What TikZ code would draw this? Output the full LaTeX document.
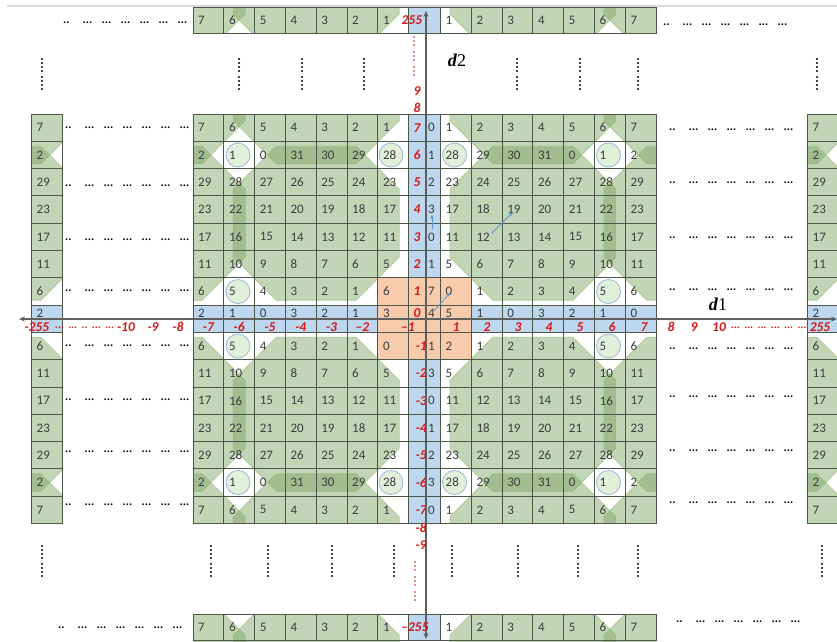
\documentclass[tikz,border=0pt]{standalone}
\usepackage{fontspec}
\setmainfont{Carlito}
\newfontfamily\dfont{Liberation Serif}
\usetikzlibrary{arrows.meta}
\definecolor{octgreen}{RGB}{124,164,97}
\definecolor{octline}{RGB}{140,190,110}
\definecolor{bluecell}{RGB}{189,215,238}
\definecolor{orangecell}{RGB}{248,203,173}
\definecolor{gridc}{RGB}{78,86,74}
\definecolor{numc}{RGB}{60,60,60}
\definecolor{redl}{RGB}{214,24,24}
\definecolor{circf}{RGB}{226,239,218}
\definecolor{circd}{RGB}{150,185,215}
\definecolor{arrowblue}{RGB}{91,155,213}
\definecolor{axisc}{RGB}{95,95,95}
\newcommand{\oct}[2]{\filldraw[octf] ({#1-83},{#2-34}) -- ({#1-40},{#2-77}) -- ({#1+40},{#2-77}) -- ({#1+83},{#2-34}) -- ({#1+83},{#2+34}) -- ({#1+40},{#2+77}) -- ({#1-40},{#2+77}) -- ({#1-83},{#2+34}) -- cycle;}
\newcommand{\octs}[2]{\foreach \ox in {#1}{\foreach \oy in {#2}{\oct{\ox}{\oy}}}}
\newcommand{\dotline}{..\hspace{13pt}...\hspace{9.4pt}...\hspace{9.4pt}...\hspace{9.4pt}...\hspace{9.4pt}...\hspace{9.4pt}...}
\newcommand{\vdotsat}[2]{\foreach \dd in {0,4,8,12,18,22,26,30}{\fill[black] (#1,{#2+\dd}) circle (1.1);}}
\tikzset{
 octf/.style={fill=octgreen, fill opacity=0.45, draw=octline, draw opacity=0.7, line width=0.6pt},
 num/.style={anchor=west, inner sep=0pt, text=numc, font=\fontsize{13}{13}\selectfont},
 rlab/.style={inner sep=0pt, text=redl, font=\fontsize{13.5}{13.5}\selectfont\bfseries\itshape},
 gridline/.style={draw=gridc, line width=0.9pt},
 circ/.style={circle, fill=circf, draw=circd, line width=0.8pt, minimum size=24pt, inner sep=0pt},
 hdot/.style={anchor=west, inner sep=0pt, text=black, font=\fontsize{12}{12}\selectfont\bfseries},
 rdots/.style={anchor=west, inner sep=0pt, text=redl, font=\fontsize{11}{11}\selectfont\bfseries\itshape},
 axisline/.style={draw=axisc, line width=1.2pt, {Stealth[length=6pt,width=5pt]}-{Stealth[length=6pt,width=5pt]}},
 barrow/.style={draw=arrowblue, line width=0.8pt, -{Stealth[length=4pt,width=3.5pt]}},
 dlab/.style={inner sep=0pt, font=\dfont\fontsize{18}{18}\selectfont},
}
\begin{document}
\begin{tikzpicture}[x=1pt,y=-1pt]
\useasboundingbox (0,0) rectangle (837,641);
\fill[white] (0,0) rectangle (837,641);
\draw[gray!30, line width=2pt] (7,5.5) -- (837,5.5);

% ---- green octagon overlays ----
\begin{scope}\clip (193,114) rectangle (408.6,305.1); \octs{162.2,316.2}{86.75,223.25}\end{scope}
\begin{scope}\clip (440.5,114) rectangle (656.1,305.1); \octs{532.9,686.9}{86.75,223.25}\end{scope}
\begin{scope}\clip (193,332.4) rectangle (408.6,523.5); \octs{162.2,316.2}{414.25,550.75}\end{scope}
\begin{scope}\clip (440.5,332.4) rectangle (656.1,523.5); \octs{532.9,686.9}{414.25,550.75}\end{scope}
\begin{scope}\clip (193,7.3) rectangle (656.1,33.6);
 \begin{scope}[shift={(0,-106.7)}]\octs{162.2,316.2}{86.75,223.25}\octs{532.9,686.9}{86.75,223.25}\end{scope}
\end{scope}
\begin{scope}\clip (193,614.3) rectangle (656.1,641);
 \begin{scope}[shift={(0,118.4)}]\octs{162.2,316.2}{414.25,550.75}\octs{532.9,686.9}{414.25,550.75}\end{scope}
\end{scope}
\begin{scope}\clip (31.8,114) rectangle (62.6,523.5);
 \begin{scope}[shift={(-161.2,0)}]\octs{162.2,316.2}{86.75,223.25,414.25,550.75}\end{scope}
\end{scope}
\begin{scope}\clip (807.8,114) rectangle (838.6,523.5);
 \begin{scope}[shift={(614.8,0)}]\octs{162.2,316.2}{86.75,223.25,414.25,550.75}\end{scope}
\end{scope}

% ---- blue and orange cells ----
\fill[bluecell] (408.6,114) rectangle (440.5,277.8);
\fill[bluecell] (408.6,359.7) rectangle (440.5,523.5);
\fill[bluecell] (193,305.1) rectangle (377.8,332.4);
\fill[bluecell] (471.3,305.1) rectangle (656.1,332.4);
\fill[orangecell] (377.8,277.8) rectangle (471.3,359.7);
\fill[bluecell] (408.6,7.3) rectangle (440.5,33.6);
\fill[bluecell] (408.6,614.3) rectangle (440.5,641);
\fill[bluecell] (31.8,305.1) rectangle (62.6,332.4);
\fill[bluecell] (807.8,305.1) rectangle (838.6,332.4);

% ---- grid lines ----
\foreach \k in {0,...,15} {\draw[gridline] (193,{114+27.3*\k}) -- (656.1,{114+27.3*\k});}
\foreach \xx in {193,223.8,254.6,285.4,316.2,347,377.8,408.6,426,440.5,471.3,502.1,532.9,563.7,594.5,625.3,656.1} {\draw[gridline] (\xx,114) -- (\xx,523.5);}
\draw[gridline] (193,7.3) -- (656.1,7.3) (193,33.6) -- (656.1,33.6);
\draw[gridline] (193,614.3) -- (656.1,614.3) (193,640.6) -- (656.1,640.6);
\foreach \xx in {193,223.8,254.6,285.4,316.2,347,377.8,408.6,440.5,471.3,502.1,532.9,563.7,594.5,625.3,656.1} {\draw[gridline] (\xx,7.3) -- (\xx,33.6); \draw[gridline] (\xx,614.3) -- (\xx,641);}
\foreach \k in {0,...,15} {\draw[gridline] (31.8,{114+27.3*\k}) -- (62.6,{114+27.3*\k}); \draw[gridline] (807.8,{114+27.3*\k}) -- (838.6,{114+27.3*\k});}
\draw[gridline] (31.8,114) -- (31.8,523.5) (62.6,114) -- (62.6,523.5) (807.8,114) -- (807.8,523.5);

% ---- circles ----
\node[circ] (c1) at (238,155) {};
\node[circ] (c2) at (391,155) {};
\node[circ] (c3) at (238,291.5) {};
\node[circ] (c4) at (454.5,155) {};
\node[circ] (c5) at (608.5,155) {};
\node[circ] (c6) at (608.5,291.5) {};
\node[circ] (c7) at (238,346) {};
\node[circ] (c8) at (608.5,346) {};
\node[circ] (c9) at (238,482.5) {};
\node[circ] (c10) at (391,482.5) {};
\node[circ] (c11) at (454.5,482.5) {};
\node[circ] (c12) at (608.5,482.5) {};

% ---- main grid texts ----
\foreach \r/\lv/\rl/\cv/\rv in {
 1/{7,6,5,4,3,2,1}/7/0/{1,2,3,4,5,6,7},
 2/{2,1,0,31,30,29,28}/6/1/{28,29,30,31,0,1,2},
 3/{29,28,27,26,25,24,23}/5/2/{23,24,25,26,27,28,29},
 4/{23,22,21,20,19,18,17}/4/3/{17,18,19,20,21,22,23},
 5/{17,16,15,14,13,12,11}/3/0/{11,12,13,14,15,16,17},
 6/{11,10,9,8,7,6,5}/2/1/{5,6,7,8,9,10,11},
 7/{6,5,4,3,2,1,6}/1/7/{0,1,2,3,4,5,6},
 8/{2,1,0,3,2,1,3}/0/4/{5,1,0,3,2,1,0},
 9/{6,5,4,3,2,1,0}/-1/1/{2,1,2,3,4,5,6},
 10/{11,10,9,8,7,6,5}/-2/3/{5,6,7,8,9,10,11},
 11/{17,16,15,14,13,12,11}/-3/0/{11,12,13,14,15,16,17},
 12/{23,22,21,20,19,18,17}/-4/1/{17,18,19,20,21,22,23},
 13/{29,28,27,26,25,24,23}/-5/2/{23,24,25,26,27,28,29},
 14/{2,1,0,31,30,29,28}/-6/3/{28,29,30,31,0,1,2},
 15/{7,6,5,4,3,2,1}/-7/0/{1,2,3,4,5,6,7}}{
 \pgfmathsetmacro\yc{\r==8 ? 313 : 114+27.3*(\r-0.5)}
 \foreach \v [count=\c] in \lv {\node[num] (L\r-\c) at ({193+30.8*(\c-1)+5},\yc) {\v};}
 \foreach \v [count=\c] in \rv {\node[num] (Q\r-\c) at ({440.5+30.8*(\c-1)+5},\yc) {\v};}
 \node[num] (V\r) at (428,\yc) {\cv};
 \ifnum\r<9 \node[rlab] (R\r) at (417,\yc) {\rl};
 \else \node[rlab,anchor=east] (R\r) at (427,\yc) {\rl};\fi
}
% side strips
\foreach \v [count=\c] in {7,2,29,23,17,11,6,2,6,11,17,23,29,2,7}{
 \pgfmathsetmacro\yc{\c==8 ? 313 : 114+27.3*(\c-0.5)}
 \node[num] (SL\c) at (36.5,\yc) {\v};
 \node[num] (SR\c) at (812.5,\yc) {\v};
}
% top and bottom strips
\foreach \v [count=\c] in {7,6,5,4,3,2,1}{
 \node[num] (TL\c) at ({193+30.8*(\c-1)+5},20.5) {\v};
 \node[num] (BL\c) at ({193+30.8*(\c-1)+5},627.5) {\v};
}
\foreach \v [count=\c] in {1,2,3,4,5,6,7}{
 \node[num] (TR\c) at ({440.5+30.8*(\c-1)+5},20.5) {\v};
 \node[num] (BR\c) at ({440.5+30.8*(\c-1)+5},627.5) {\v};
}

% ---- axes ----
\coordinate (hl) at (19,319);
\coordinate (hr) at (837,319);
\coordinate (vt) at (426,11);
\coordinate (vb) at (426,639);
\draw[axisline] (hl) -- (hr);
\draw[axisline] (vt) -- (vb);

% ---- axis labels along d1 ----
\foreach \t/\xx [count=\i] in {-7/208.4,-6/239.2,-5/270,-4/300.8,-3/331.6,–2/362.4,–1/408,1/456,2/487,3/518,4/549,5/580,6/612,7/644,8/671,9/694,10/719}{
 \node[rlab] (h\i) at (\xx,327) {\t};}
\node[rlab] (hm10) at (126,327) {-10};
\node[rlab] (hm9) at (153,327) {-9};
\node[rlab] (hm8) at (178,327) {-8};
\node[rlab] (hm255) at (37,327) {-255};
\node[rlab] (hp255) at (820,327) {255};
\node[rdots] (hdl) at (55,328) {...\hspace{4.5pt}...\hspace{4.5pt}..\hspace{4.5pt}...\hspace{4.5pt}...};
\node[rdots] (hdr) at (731,328) {...\hspace{4.5pt}...\hspace{4.5pt}...\hspace{4.5pt}...\hspace{4.5pt}...\hspace{4.5pt}...};

% ---- axis labels along d2 ----
\node[rlab] (v255) at (412,20.5) {255};
\node[rlab] (vm255) at (415,627.5) {–255};
\node[rlab] (v9) at (417,91) {9};
\node[rlab] (v8) at (417,108) {8};
\node[rlab] (vm8) at (421,528) {-8};
\node[rlab] (vm9) at (421,545) {-9};
\foreach \dd in {0,4,8,15,19,23,30,34,38} {\fill[redl] (414,{37+\dd}) circle (0.9); \fill[redl] (415,{562+\dd}) circle (0.9);}

\node[dlab] (d2) at (457,60) {\textbf{\textit{d}}2};
\node[dlab] (d1) at (718,304) {\textbf{\textit{d}}1};

% ---- blue arrows ----
\coordinate (ba1) at (433,312); \coordinate (ba2) at (450,293);
\coordinate (bb1) at (492,233); \coordinate (bb2) at (513,212);
\coordinate (bc1) at (432,229); \coordinate (bc2) at (432,215);
\draw[barrow] (ba1) -- (ba2);
\draw[barrow] (bb1) -- (bb2);
\draw[barrow] (bc1) -- (bc2);

% ---- ellipsis dots ----
\foreach \yy [count=\i] in {128,186,240,291,346,400,452,505} {\node[hdot] (dL\i) at (65,\yy) {\dotline};}
\foreach \yy [count=\i] in {130,183,238,290,349,397,451,503} {\node[hdot] (dR\i) at (669,\yy) {\dotline};}
\node[hdot] (dTL) at (63,23) {\dotline};
\node[hdot] (dTR) at (663,24.5) {\dotline};
\node[hdot] (dBL) at (58,628) {\dotline};
\node[hdot] (dBR) at (676,622) {\dotline};
\foreach \xx in {42,239,302,364,517,580,638,817} {\vdotsat{\xx}{59}}
\foreach \xx in {42,211,268,332,394,452,518,578,638,822} {\vdotsat{\xx}{546}}
\end{tikzpicture}
\end{document}
